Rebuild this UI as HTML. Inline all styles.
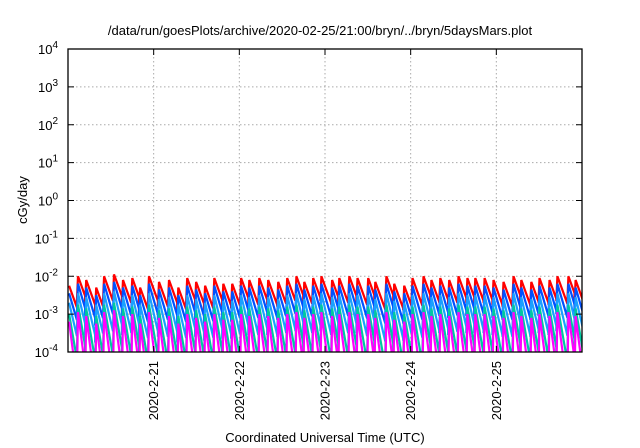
<!DOCTYPE html>
<html><head><meta charset="utf-8"><style>
body{margin:0;background:#fff}
svg{display:block;font-family:"Liberation Sans",sans-serif}
</style></head><body>
<svg id="chart" width="640" height="448">
<defs><clipPath id="pc"><rect x="68" y="49" width="514" height="303"/></clipPath></defs>
<text x="320" y="35" text-anchor="middle" font-size="13">/data/run/goesPlots/archive/2020-02-25/21:00/bryn/../bryn/5daysMars.plot</text>
<text transform="translate(27,200) rotate(-90)" text-anchor="middle" font-size="13">cGy/day</text>
<text x="325" y="442" text-anchor="middle" font-size="13">Coordinated Universal Time (UTC)</text>
<g id="grid"></g><g id="series" clip-path="url(#pc)"></g><g id="axes"></g>
</svg>
<script>
const yTickExps=[4,3,2,1,0,-1,-2,-3,-4];
const xTickLabels=["2020-2-21","2020-2-22","2020-2-23","2020-2-24","2020-2-25"];
const xTickHours=[24,48,72,96,120];
const toothHours=[0,2.5,4.8,7.6,9.8,12.6,15.1,17.7,19.9,22.4,25.2,28.0,30.6,33.1,35.6,38.1,40.7,43.2,45.7,48.2,50.5,53.3,55.8,58.6,61.1,63.7,65.9,68.4,70.7,73.7,75.7,78.5,80.8,83.8,85.8,88.9,91.1,93.9,96.2,99.3,101.5,104.0,106.5,109.1,111.6,113.8,116.4,118.9,121.7,124.5,126.7,129.5,131.8,134.6,136.8,139.9,141.9];
const redPeakLog=[-2.25,-2.0,-2.1,-2.3,-2.0,-1.95,-2.1,-2.05,-2.3,-2.0,-2.15,-2.1,-2.3,-2.05,-2.15,-2.25,-2.05,-2.2,-2.2,-2.05,-2.1,-2.05,-2.1,-2.15,-2.05,-2.0,-2.15,-2.05,-2.0,-2.1,-2.05,-2.0,-2.05,-2.05,-2.15,-2.0,-2.2,-2.25,-2.05,-2.0,-2.1,-2.05,-2.1,-2.0,-2.05,-2.05,-2.05,-2.1,-2.15,-2.0,-2.1,-2.15,-2.05,-2.1,-2.0,-2.0,-2.1];
const seriesNames=["red","blue","light-blue","green","magenta"];
const seriesColors=["#ff0000","#0050ff","#1aa0ff","#00c8a0","#ff00ff"];
const seriesOffsetLog=[0,-0.2,-0.45,-0.75,-0.95];
const seriesDropLog=[0.65,0.8,1.0,1.35,1.8];
const H0=0,H1=144,L=68,R=582,T=49,B=352,E0=4,E1=-4;
const xs=h=>L+(h-H0)/(H1-H0)*(R-L);
const ys=e=>T+(E0-e)/(E0-E1)*(B-T);
const NS="http://www.w3.org/2000/svg";
function mk(tag,attrs,parent){const el=document.createElementNS(NS,tag);for(const k in attrs)el.setAttribute(k,attrs[k]);parent.appendChild(el);return el;}
const grid=document.getElementById('grid'),axes=document.getElementById('axes'),ser=document.getElementById('series');
yTickExps.forEach(e=>{const y=ys(e);
 if(e<E0&&e>E1){const g=mk('line',{x1:L,x2:R,y1:y,y2:y,stroke:'#aaa','stroke-dasharray':'1.5,2.5','stroke-width':1},grid);
 
 }
 const t=mk('line',{x1:L,x2:L+6,y1:y,y2:y,stroke:'#000'},axes);
 
 
 const t2=mk('line',{x1:R,x2:R-6,y1:y,y2:y,stroke:'#000'},axes);
 
 
 const tx=mk('text',{x:L-10,y:y+5,'text-anchor':'end','font-size':13},axes);
 
 
 tx.innerHTML='10<tspan dy="-6" font-size="10">'+e+'</tspan>';
});
xTickHours.forEach((h,i)=>{const x=xs(h);
 const g=mk('line',{x1:x,x2:x,y1:T,y2:B,stroke:'#aaa','stroke-dasharray':'1.5,2.5'},grid);
 
 
 const t=mk('line',{x1:x,x2:x,y1:B,y2:B-6,stroke:'#000'},axes);
 
 
 const t2=mk('line',{x1:x,x2:x,y1:T,y2:T+6,stroke:'#000'},axes);
 
 
 const tx=mk('text',{transform:`translate(${x+4.5},361) rotate(-90)`,'text-anchor':'end','font-size':13},axes);
 
 
 tx.textContent=xTickLabels[i];
});
const frame=mk('rect',{x:L,y:T,width:R-L,height:B-T,fill:'none',stroke:'#000','stroke-width':1.3},axes);


seriesNames.forEach((n,s)=>{
 let pts=[];
 for(let i=0;i<toothHours.length;i++){
  const pk=redPeakLog[i]+seriesOffsetLog[s];
  const h=toothHours[i];
  const nh=i+1<toothHours.length?toothHours[i+1]:h+2.5;
  if(i>0)pts.push([xs(h),ys(pk-seriesDropLog[s])]);
  pts.push([xs(h+0.3),ys(pk)]);
  const frac=(nh-h-0.3)/2.5;
  pts.push([xs(nh),ys(pk-seriesDropLog[s]*frac)]);
 }
 const p=mk('polyline',{points:pts.map(q=>q[0].toFixed(1)+','+q[1].toFixed(1)).join(' '),fill:'none',stroke:seriesColors[s],'stroke-width':2.2,'stroke-linejoin':'miter','stroke-miterlimit':3},ser);
 
 
});
</script>
</body></html>
